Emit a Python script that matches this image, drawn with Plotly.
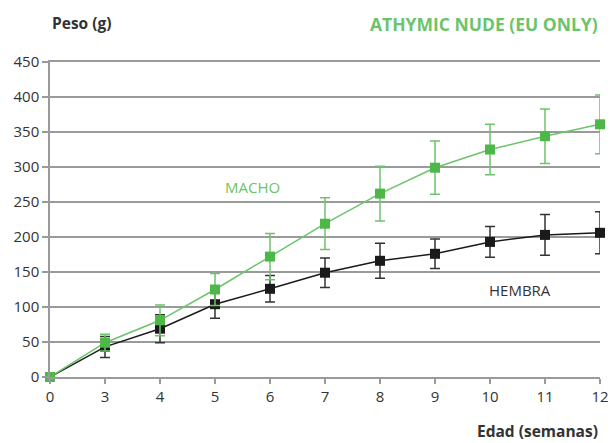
import plotly.graph_objects as go

# Weekly body weight (g) for athymic nude rats, mean ± SD
weeks = ["0", "3", "4", "5", "6", "7", "8", "9", "10", "11", "12"]
macho = [0, 49, 81, 125, 172, 219, 262, 299, 325, 344, 361]
macho_sd = [0, 12, 22, 23, 33, 37, 39, 38, 36, 39, 42]
hembra = [0, 43, 69, 104, 126, 149, 166, 176, 193, 203, 206]
hembra_sd = [0, 15, 20, 20, 19, 21, 25, 21, 22, 29, 30]
y_ticks = [0, 50, 100, 150, 200, 250, 300, 350, 400, 450]

pos = list(range(len(weeks)))

GREEN = "#4db848"
GREEN_LINE = "#6cc46a"
BLACK = "#1a1a1a"
GRID = "#9a9a9a"
TEXT = "#333333"
FONT = "Open Sans"

fig = go.Figure()

fig.add_trace(go.Scatter(
    x=pos, y=hembra, mode="lines+markers",
    line=dict(color=BLACK, width=1.5),
    marker=dict(symbol="square", size=10, color=BLACK),
    error_y=dict(type="data", array=hembra_sd, color="#333333", thickness=1.5, width=5),
    cliponaxis=False, showlegend=False,
))
fig.add_trace(go.Scatter(
    x=pos, y=macho, mode="lines+markers",
    line=dict(color=GREEN_LINE, width=1.5),
    marker=dict(symbol="square", size=10, color=GREEN),
    error_y=dict(type="data", array=macho_sd, color=GREEN_LINE, thickness=1.5, width=5),
    cliponaxis=False, showlegend=False,
))

fig.update_layout(
    width=611, height=443,
    margin=dict(l=50, r=11, t=62, b=66, autoexpand=False),
    plot_bgcolor="white", paper_bgcolor="white",
    font=dict(family=FONT, color=TEXT, size=14),
    xaxis=dict(
        range=[0, len(weeks) - 1], tickvals=pos, ticktext=weeks,
        showgrid=False, zeroline=False, automargin=False,
        showline=True, linecolor=GRID, linewidth=1.5, mirror=True,
        ticks="outside", ticklen=5, tickcolor=GRID, tickwidth=1.5,
        tickfont=dict(size=15, color=TEXT),
    ),
    yaxis=dict(
        range=[0, 450], tickvals=y_ticks, automargin=False,
        showgrid=True, gridcolor=GRID, gridwidth=1.5, zeroline=False,
        showline=True, linecolor=GRID, linewidth=1.5,
        ticks="outside", ticklen=6, tickcolor=GRID, tickwidth=1.5,
        tickfont=dict(size=15, color=TEXT),
    ),
    annotations=[
        dict(text="<b>Peso (g)</b>", xref="paper", yref="paper", x=0, y=1,
             xanchor="left", yanchor="bottom", yshift=26, xshift=0,
             showarrow=False, font=dict(size=15.5, color=TEXT)),
        dict(text="<b>ATHYMIC NUDE (EU ONLY)</b>", xref="paper", yref="paper", x=1, y=1,
             xanchor="right", yanchor="bottom", yshift=24,
             showarrow=False, font=dict(size=17.5, color=GREEN_LINE)),
        dict(text="<b>Edad (semanas)</b>", xref="paper", yref="paper", x=1, y=0,
             xanchor="right", yanchor="top", yshift=-41,
             showarrow=False, font=dict(size=15.5, color=TEXT)),
        dict(text="MACHO", xref="x", yref="y", x=3.68, y=272,
             showarrow=False, font=dict(size=15, color=GREEN_LINE)),
        dict(text="HEMBRA", xref="x", yref="y", x=8.55, y=124,
             showarrow=False, font=dict(size=15, color=TEXT)),
    ],
)

fig.write_html("out.html")
